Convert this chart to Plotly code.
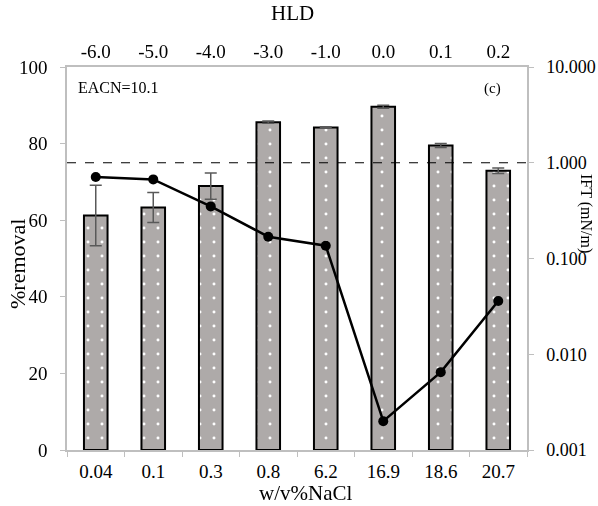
import plotly.graph_objects as go

nacl = ["0.04", "0.1", "0.3", "0.8", "6.2", "16.9", "18.6", "20.7"]
hld = ["-6.0", "-5.0", "-4.0", "-3.0", "-1.0", "0.0", "0.1", "0.2"]
removal = [61.2, 63.3, 68.9, 85.6, 84.2, 89.6, 79.5, 72.9]
removal_err = [7.9, 3.9, 3.4, 0.3, 0.2, 0.4, 0.5, 0.7]
ift = [0.71, 0.67, 0.35, 0.169, 0.136, 0.0020, 0.0065, 0.036]
ift_ref = 1.0
ift_ticks = [0.001, 0.01, 0.1, 1, 10]
ift_ticktext = ["0.001", "0.010", "0.100", "1.000", "10.000"]

FONT = "Liberation Serif"
AX = "#bfbfbf"

# plot area in pixels
L, R, T, B = 67, 527, 67, 450
W, H = 598, 506


def px(xp):
    return (xp - L) / (R - L)


def py(yp):
    return (B - yp) / (B - T)


fig = go.Figure()
fig.add_trace(go.Bar(
    x=nacl, y=removal,
    marker=dict(color="#aeaaa9",
                line=dict(color="black", width=2),
                pattern=dict(shape=".", fgcolor="white", bgcolor="#aeaaa9",
                             size=14, solidity=0.035, fillmode="replace")),
    error_y=dict(type="data", array=removal_err, color="#595959", thickness=1.5, width=6),
    showlegend=False,
))
fig.add_trace(go.Scatter(
    x=nacl, y=ift, yaxis="y2", mode="lines+markers",
    line=dict(color="black", width=2.5),
    marker=dict(color="black", size=10),
    showlegend=False,
))
fig.add_trace(go.Scatter(
    x=hld, y=removal, xaxis="x2", mode="markers", opacity=0,
    hoverinfo="skip", showlegend=False,
))

fig.add_shape(type="line", xref="x domain", x0=0, x1=1, yref="y2", y0=ift_ref, y1=ift_ref,
              line=dict(color="black", width=1.2, dash="dash"))

fig.update_layout(
    width=W, height=H,
    margin=dict(l=L, r=W - R, t=T, b=H - B, autoexpand=False),
    paper_bgcolor="white", plot_bgcolor="white",
    font=dict(family=FONT, size=19, color="black"),
    bargap=0.59,
    xaxis=dict(type="category", range=[-0.5, 7.5], showline=True, linecolor=AX, linewidth=1.5,
               ticks="outside", tickson="boundaries", ticklen=5, tickcolor=AX,
               showgrid=False, zeroline=False, automargin=False, ticklabelstandoff=3),
    xaxis2=dict(type="category", range=[-0.5, 7.5], overlaying="x", side="top", anchor="y",
                showline=True, linecolor=AX, linewidth=1.5, ticks="", showgrid=False,
                automargin=False),
    yaxis=dict(range=[0, 100], tickvals=[0, 20, 40, 60, 80, 100], showline=True, linecolor=AX,
               linewidth=1.5, ticks="outside", ticklen=5, tickcolor=AX, showgrid=False,
               zeroline=False, ticklabelstandoff=9, automargin=False),
    yaxis2=dict(type="log", range=[-3, 1], overlaying="y", side="right", anchor="x",
                tickvals=ift_ticks, ticktext=ift_ticktext, showline=True, linecolor=AX,
                linewidth=1.5, ticks="outside", ticklen=5, tickcolor=AX, showgrid=False,
                zeroline=False, ticklabelstandoff=9, automargin=False,
                tickfont=dict(size=18)),
    annotations=[
        dict(text="w/v%NaCl", xref="paper", yref="paper", x=px(305), y=py(493),
             xanchor="center", yanchor="middle", showarrow=False, font=dict(size=21)),
        dict(text="HLD", xref="paper", yref="paper", x=px(292), y=py(13),
             xanchor="center", yanchor="middle", showarrow=False, font=dict(size=21)),
        dict(text="%removal", xref="paper", yref="paper", x=px(17), y=py(264),
             xanchor="center", yanchor="middle", textangle=-90, showarrow=False,
             font=dict(size=22)),
        dict(text="EACN=10.1", xref="paper", yref="paper", x=px(76), y=py(87),
             xanchor="left", yanchor="middle", showarrow=False, font=dict(size=16)),
        dict(text="(c)", xref="paper", yref="paper", x=px(503), y=py(88),
             xanchor="right", yanchor="middle", showarrow=False, font=dict(size=15)),
        dict(text="IFT (mN/m)", xref="paper", yref="paper", x=px(597), y=py(213),
             xanchor="right", yanchor="middle", textangle=90, showarrow=False,
             font=dict(size=16)),
    ],
)

fig.write_html("out.html")
